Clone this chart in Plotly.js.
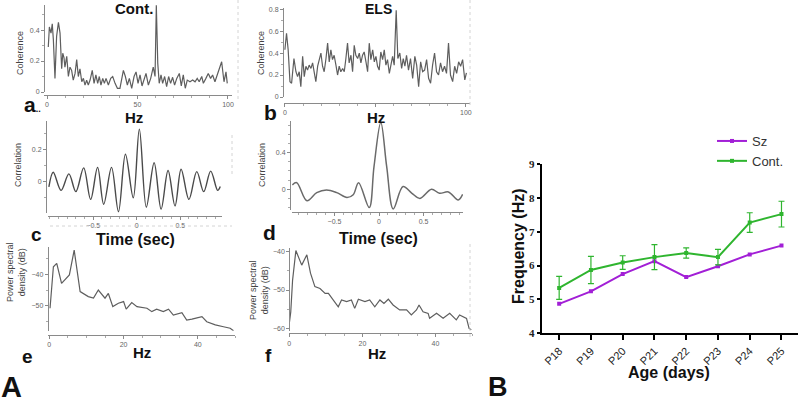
<!DOCTYPE html>
<html>
<head>
<meta charset="utf-8">
<script src="https://cdn.plot.ly/plotly-3.0.1.min.js"></script>
<style>
  html, body { margin: 0; padding: 0; background: #fff; }
  #chart { width: 800px; height: 404px; }
</style>
</head>
<body>
<div id="chart"></div>
<script>
// a: coherence, control animal
const cohFreqA = [0.7,1.3,2.2,2.9,3.5,4.4,5.3,6.3,7.2,8.1,
  8.7,9.4,9.9,10.9,11.8,12.7,13.6,14.5,15.5,16.4,
  17.3,18.2,19.2,20.1,21,21.9,22.8,23.8,25,26,
  27,28,28.9,29.8,30.8,31.7,32.6,33.9,35.2,36.3,
  37.6,38.9,40.3,41.4,42.2,43.3,44.4,45.5,46.8,48.1,
  49.2,50.3,51.4,52.5,53.6,54.7,56,57.3,58.7,59.7,
  60.4,61.2,62,63,63.9,65,66.1,67.2,68.3,69.4,
  70.5,71.7,73.1,74.2,75.3,76.4,77.5,79,80.5,81.8,
  83,84.1,85.5,86.4,87.8,89.1,90.4,91.5,92.8,94.6,
  96.5,97.8,98.9,99.6];
const cohCont = [0.29,0.42,0.38,0.44,0.34,0.088,0.36,0.45,0.38,0.15,
  0.25,0.22,0.16,0.23,0.10,0.16,0.14,0.077,0.12,0.21,
  0.10,0.15,0.066,0.088,0.045,0.077,0.045,0.077,0.14,0.056,
  0.11,0.056,0.10,0.045,0.088,0.056,0.088,0.045,0.088,0.10,
  0.056,0.024,0.024,0.10,0.14,0.10,0.045,0.088,0.024,0.10,
  0.13,0.056,0.11,0.039,0.088,0.12,0.045,0.088,0.16,0.10,
  0.56,0.185,0.056,0.11,0.056,0.10,0.034,0.10,0.056,0.095,
  0.045,0.088,0.12,0.039,0.11,0.024,0.077,0.066,0.077,0.066,
  0.088,0.066,0.10,0.056,0.088,0.12,0.088,0.11,0.066,0.13,
  0.195,0.066,0.13,0.056];

// b: coherence, ELS animal
const cohFreqB = [0,0.9,1.8,2.8,3.7,5,6.1,7,7.9,8.8,
  9.8,10.7,11.6,12.5,13.4,14.4,15.3,16.2,17.1,18.1,
  19,19.9,20.8,21.7,22.7,23.6,24.5,25.4,26.3,27.2,
  28.2,29.1,30,30.9,31.9,32.8,33.7,34.6,35.5,36.5,
  37.4,38.3,39.2,40.2,41.1,42,42.9,43.8,44.8,45.7,
  46.6,47.5,48.5,49.4,50.3,51.2,52.1,53,54,54.9,
  55.8,56.7,57.7,58.6,59.5,60.4,61.5,62.4,63.5,64.5,
  65.4,66.3,67.2,68.3,69.4,70.6,71.8,72.8,73.9,75,
  76.1,77.2,78.3,79.4,80.5,81.6,82.7,83.8,84.9,86,
  87.1,88.2,89.3,90.4,91.5,92.7,93.8,94.9,96,97.1,
  98.2,99.4,100.3];
const cohEls = [0.43,0.58,0.43,0.14,0.125,0.35,0.23,0.185,0.23,0.094,
  0.37,0.185,0.28,0.245,0.29,0.26,0.31,0.23,0.14,0.28,
  0.34,0.40,0.28,0.23,0.35,0.49,0.32,0.43,0.34,0.38,
  0.29,0.20,0.28,0.23,0.26,0.23,0.35,0.49,0.31,0.38,
  0.23,0.47,0.38,0.35,0.40,0.31,0.38,0.41,0.32,0.23,
  0.49,0.34,0.43,0.32,0.37,0.28,0.245,0.41,0.34,0.43,
  0.29,0.34,0.215,0.29,0.37,0.29,0.79,0.35,0.40,0.26,
  0.35,0.28,0.38,0.245,0.35,0.17,0.37,0.29,0.094,0.32,
  0.23,0.245,0.34,0.17,0.125,0.29,0.40,0.23,0.20,0.31,
  0.23,0.28,0.215,0.49,0.20,0.14,0.28,0.215,0.32,0.28,
  0.34,0.155,0.22];

// c / d: cross-correlation (peaks and troughs)
const corrTimeC = [-1.01,-0.96,-0.87,-0.78,-0.70,-0.61,-0.53,-0.45,-0.38,-0.29,-0.21,-0.13,-0.04,
  0.03,0.11,0.20,0.28,0.36,0.44,0.51,0.60,0.69,0.77,0.85,0.93,0.96];
const corrC = [-0.033,0.058,-0.054,0.048,-0.062,0.085,-0.11,0.088,-0.14,0.088,-0.186,0.169,-0.10,
  0.325,-0.158,0.117,-0.17,0.069,-0.15,0.077,-0.11,0.062,-0.062,0.065,-0.054,-0.03];
const corrTimeD = [-0.974,-0.925,-0.81,-0.70,-0.59,-0.475,-0.36,-0.29,-0.23,-0.11,-0.056,0.02,0.086,
  0.16,0.27,0.37,0.46,0.59,0.68,0.78,0.89,0.94];
const corrD = [0.047,0.072,-0.125,-0.037,-0.008,-0.037,-0.09,-0.06,0.072,-0.2,0.25,0.73,0.25,
  -0.215,0.03,-0.044,-0.1,0.0,-0.044,-0.03,-0.117,-0.055];

// e / f: power spectral density
const psdFreqE = [0.2,1.1,2.0,3.3,5.4,6.7,8.3,10.5,11.9,13.2,15,15.9,17.1,18.6,20,20.7,22.2,
  23.6,26.3,27.6,28.9,30.7,32.1,33.4,35.7,37,38.4,41.1,42.4,44.7,46.9,48.7,49.6];
const psdE = [-50.8,-37.6,-36.5,-42.9,-40.2,-32.3,-45.5,-47.1,-47.6,-45,-47.6,-46.1,-50.3,-49.2,-48.7,-51.1,-49,
  -50.3,-50.8,-51.9,-51.1,-51.9,-51.1,-53,-52.2,-54.6,-54.3,-53.5,-55.1,-56.1,-56.7,-57.2,-58];
const psdFreqF = [0,0.4,0.9,1.8,3.4,4.8,5.8,7.0,8.4,9.8,10.7,12.0,13.4,14.3,15.7,17.0,17.9,18.9,20.7,22.0,
  23.4,24.8,25.9,27.1,28.4,30.2,32.1,33.4,34.8,35.5,36.6,38,38.4,40.3,42.1,43.9,45.7,46.6,48.5,49.2,49.8];
const psdF = [-58.7,-55.7,-47.4,-39.7,-43.5,-40.8,-45.6,-49.1,-49.6,-50.9,-50.9,-52.6,-54.4,-52.6,-53.0,-52.6,-54.8,-52.4,-53.0,-52.6,
  -54.4,-52.6,-53.5,-52.4,-53.9,-55.2,-55.2,-56.5,-55.2,-53.9,-55.7,-56.1,-57.4,-56.1,-57.4,-56.1,-57.8,-56.5,-57.4,-60,-60.4];

// B: peak frequency by age
const ages = ['P18','P19','P20','P21','P22','P23','P24','P25'];
const szFreq = [4.87,5.24,5.75,6.13,5.66,5.98,6.33,6.59];
const contFreq = [5.34,5.87,6.09,6.25,6.37,6.25,7.27,7.52];
const contErr = [0.34,0.40,0.2,0.37,0.15,0.23,0.29,0.38];

const W = 800, H = 404;
const px = v => v / W;
const py = v => 1 - v / H;

const SANS = 'Liberation Sans, Arial, sans-serif';
const traceLine = { color: '#5e5e5e', width: 1.2 };

const smallCommon = {
    showline: true, linecolor: '#8a8a8a', linewidth: 1,
    ticks: 'outside', ticklen: 3, tickwidth: 1, tickcolor: '#8a8a8a',
    tickfont: { family: SANS, size: 7, color: '#666' },
    showgrid: false, zeroline: false, fixedrange: true
};

function xAx(range, x0, x1, yPos, dtick, minorDtick) {
    return Object.assign({}, smallCommon, {
        range: range, domain: [px(x0), px(x1)],
        anchor: 'free', position: py(yPos),
        tick0: 0, dtick: dtick,
        minor: { dtick: minorDtick, ticks: 'outside', ticklen: 2, tickcolor: '#aaa' }
    });
}

function yAx(range, yTop, yBot, xPos, dtick, minorDtick, tick0 = 0) {
    return Object.assign({}, smallCommon, {
        range: range, domain: [py(yBot), py(yTop)],
        anchor: 'free', position: px(xPos),
        tick0: tick0, dtick: dtick,
        minor: { dtick: minorDtick, ticks: 'outside', ticklen: 2, tickcolor: '#aaa' }
    });
}

const traces = [
    { x: cohFreqA, y: cohCont, xaxis: 'x', yaxis: 'y', type: 'scatter', mode: 'lines', line: traceLine, showlegend: false },
    { x: cohFreqB, y: cohEls, xaxis: 'x2', yaxis: 'y2', type: 'scatter', mode: 'lines', line: traceLine, showlegend: false },
    { x: corrTimeC, y: corrC, xaxis: 'x3', yaxis: 'y3', type: 'scatter', mode: 'lines',
      line: { color: '#4a4a4a', width: 1.4, shape: 'spline', smoothing: 1 }, showlegend: false },
    { x: corrTimeD, y: corrD, xaxis: 'x4', yaxis: 'y4', type: 'scatter', mode: 'lines',
      line: { color: '#6a6a6a', width: 1.5, shape: 'spline', smoothing: 1 }, showlegend: false },
    { x: psdFreqE, y: psdE, xaxis: 'x5', yaxis: 'y5', type: 'scatter', mode: 'lines', line: traceLine, showlegend: false },
    { x: psdFreqF, y: psdF, xaxis: 'x6', yaxis: 'y6', type: 'scatter', mode: 'lines', line: traceLine, showlegend: false },
    {
        x: ages, y: szFreq, xaxis: 'x7', yaxis: 'y7', type: 'scatter', mode: 'lines+markers', name: 'Sz',
        line: { color: '#a21fd6', width: 2 }, marker: { color: '#a21fd6', size: 4, symbol: 'square' }
    },
    {
        x: ages, y: contFreq, xaxis: 'x7', yaxis: 'y7', type: 'scatter', mode: 'lines+markers', name: 'Cont.',
        line: { color: '#2fb52f', width: 2 }, marker: { color: '#2fb52f', size: 4, symbol: 'square' },
        error_y: { type: 'data', array: contErr, visible: true, color: '#2fb52f', thickness: 1.2, width: 3 }
    }
];

function txt(text, x, y, size, opt = {}) {
    return Object.assign({
        xref: 'paper', yref: 'paper', x: px(x), y: py(y), text: text,
        showarrow: false, xanchor: 'center', yanchor: 'middle',
        font: { family: SANS, size: size, color: '#111', weight: 'bold' }
    }, opt);
}
const small = (text, x, y) => txt(text, x, y, 9, {
    textangle: -90, font: { family: SANS, size: 9, color: '#444' }
});

const annotations = [
    txt('Cont.', 134, 8, 15),
    txt('ELS', 378, 9, 14),
    txt('a<span style="font-size:9px">..</span>', 32, 104, 21),
    txt('Hz', 134, 117, 15),
    txt('b', 270, 112, 21),
    txt('Hz', 376, 117, 15),
    txt('c', 36, 235, 19),
    txt('Time (sec)', 135, 239, 16),
    txt('d', 269, 233, 21),
    txt('Time (sec)', 378, 238, 16),
    txt('e', 27, 356, 19),
    txt('Hz', 142, 352, 15),
    txt('f', 268, 355, 19),
    txt('Hz', 377, 353, 15),
    txt('A', 11, 387, 29),
    txt('B', 498, 387, 27),
    txt('Age (days)', 669, 372, 16),
    txt('Frequency (Hz)', 518, 246, 16, { textangle: -90 }),
    small('Coherence', 20, 53),
    small('Coherence', 261, 53),
    small('Correlation', 18, 165),
    small('Correlation', 262, 165),
    small('Power spectral<br>density (dB)', 16, 272),
    small('Power spectral<br>density (dB)', 259, 290)
];

// faint dotted frame edges around the pasted panels
const frame = (x0, y0, x1, y1) => ({
    type: 'line', xref: 'paper', yref: 'paper',
    x0: px(x0), y0: py(y0), x1: px(x1), y1: py(y1),
    line: { color: '#d4d4d4', width: 1, dash: 'dot' }
});

const xB = xAx([-0.5, 102], 284, 469.5, 103, 50, 10);
xB.tickmode = 'array';
xB.tickvals = [0, 50, 100];
xB.ticktext = ['0', '', '100'];   // the 50 label sits under the "Hz" caption

const xC = xAx([-1.02, 0.98], 48, 222, 216, 0.5, 0.1);
xC.tickmode = 'array';
xC.tickvals = [-0.5, 0, 0.5];

const layout = {
    width: W, height: H,
    margin: { l: 0, r: 0, t: 0, b: 0 },
    paper_bgcolor: '#ffffff',
    plot_bgcolor: 'rgba(0,0,0,0)',
    font: { family: SANS },
    showlegend: true,
    legend: {
        x: px(712), y: py(126), xanchor: 'left', yanchor: 'top',
        font: { family: SANS, size: 13, color: '#333' },
        bgcolor: 'rgba(0,0,0,0)', itemwidth: 30, tracegroupgap: 0
    },
    // a
    xaxis: xAx([-1.5, 102], 44.3, 231.6, 95, 50, 10),
    yaxis: yAx([0, 0.565], 4.5, 92, 44, 0.2, 0.1),
    // b
    xaxis2: xB,
    yaxis2: yAx([0, 0.81], 8, 97, 283, 0.2, 0.1),
    // c
    xaxis3: xC,
    yaxis3: yAx([-0.194, 0.375], 121, 213, 46, 0.2, 0.1),
    // d
    xaxis4: xAx([-0.978, 0.944], 292, 463, 212, 0.5, 0.1),
    yaxis4: yAx([-0.23, 0.75], 120.6, 210.3, 290, 0.4, 0.1),
    // e
    xaxis5: xAx([-0.35, 50], 48, 235, 335, 20, 5),
    yaxis5: yAx([-58, -31.3], 247, 330.8, 47.7, 10, 5, -60),
    // f
    xaxis6: xAx([0, 50], 289.3, 472, 333.3, 20, 5),
    yaxis6: yAx([-60.6, -39], 247.9, 330.6, 289.3, 10, 5, -60),
    // B
    xaxis7: {
        type: 'category', range: [-0.55, 7.52],
        domain: [px(541.7), px(798)], anchor: 'y7',
        showline: true, linecolor: '#000', linewidth: 2,
        ticks: 'outside', ticklen: 5, tickwidth: 2, tickcolor: '#000',
        tickangle: -45, tickfont: { family: SANS, size: 11, color: '#222' },
        showgrid: false, zeroline: false, fixedrange: true
    },
    yaxis7: {
        range: [4, 9], dtick: 1,
        domain: [py(333.3), py(164)], anchor: 'x7',
        showline: true, linecolor: '#000', linewidth: 2,
        ticks: 'outside', ticklen: 3, tickwidth: 2, tickcolor: '#000',
        tickfont: { family: 'Liberation Serif, Times New Roman, serif', size: 11, color: '#222', weight: 'bold' },
        showgrid: false, zeroline: false, fixedrange: true
    },
    annotations: annotations,
    shapes: [
        frame(238, 0, 238, 100),
        frame(470, 0, 470, 108),
        frame(50, 226, 232, 226),
        frame(232, 135, 232, 175),
        frame(470, 244, 470, 338)
    ]
};

Plotly.newPlot('chart', traces, layout, { displayModeBar: false, staticPlot: true });
</script>
</body>
</html>
